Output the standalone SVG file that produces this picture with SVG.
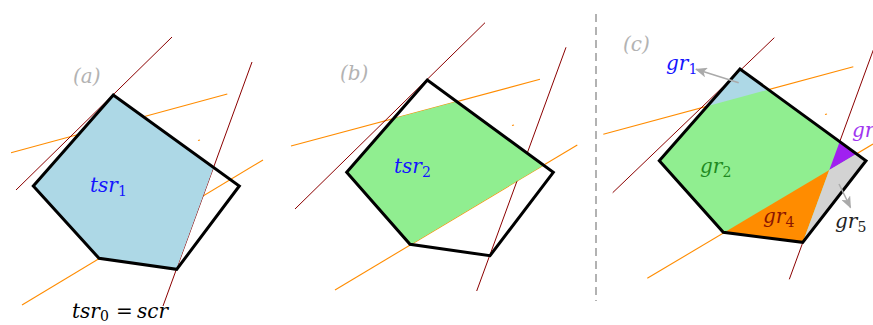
<svg xmlns="http://www.w3.org/2000/svg" width="873" height="325" viewBox="0 0 873 325">
<style>
.pent{fill:none;stroke:#000;stroke-width:3;stroke-linejoin:miter}
.dr{stroke:#8b0000;stroke-width:1;fill:none}
.or{stroke:#ff8c00;stroke-width:1.1;fill:none}
.m{font-family:"DejaVu Serif",serif;font-style:italic;font-size:20px}
.sub{font-size:14px;font-style:normal}
.lbl{fill:#b3b3b3}
.arr{stroke:#aaaaaa;stroke-width:1.5;fill:none}
</style>
<defs>
<clipPath id="clipA"><path d="M113.3,95 L33.3,186 L99,258.3 L176.7,269.3 L239.3,186 Z"/></clipPath>
<clipPath id="clipB"><path d="M427.3,80 L346.7,172.3 L410,244.3 L490,255.7 L553.3,172.3 Z"/></clipPath>
<clipPath id="clipC"><path d="M740,69 L659.3,160.7 L723.3,232.3 L802.7,242.3 L866,160.7 Z"/></clipPath>
<marker id="ah" viewBox="0 0 12 10" refX="11" refY="5" markerWidth="12" markerHeight="10" markerUnits="userSpaceOnUse" orient="auto">
<path d="M0,0 L12,5 L0,10 L3,5 Z" fill="#aaaaaa"/>
</marker>
</defs>

<g id="panel-a">
<g id="lines-a">
<line class="or" x1="11" y1="152.7" x2="227.3" y2="94"/>
<line class="or" x1="22" y1="305" x2="263" y2="160"/>
<line class="or" x1="198" y1="140.5" x2="200" y2="140"/>
<line class="dr" x1="16" y1="190" x2="172" y2="37"/>
<line class="dr" x1="252" y1="62" x2="163" y2="306"/>
</g>
<g id="tsr1-region" clip-path="url(#clipA)">
<polygon points="0,0 274.6,0 156,325 0,325" fill="#add8e6"/>
</g>
<path id="pentagon-a" class="pent" d="M113.3,95 L33.3,186 L99,258.3 L176.7,269.3 L239.3,186 Z"/>
<text class="m lbl" x="73" y="83">(a)</text>
<text class="m" x="90" y="192" fill="#1414ff">tsr<tspan class="sub" dy="4">1</tspan></text>
<text class="m" y="318" fill="#000"><tspan x="72">tsr</tspan><tspan class="sub" dy="3">0</tspan><tspan x="116" dy="-3" style="font-style:normal">=</tspan><tspan x="137">scr</tspan></text>
</g>

<g id="panel-b">
<g id="lines-b">
<line class="or" x1="291" y1="146" x2="540" y2="79.3"/>
<line class="or" x1="335" y1="290" x2="577.3" y2="145"/>
<line class="or" x1="512" y1="125.5" x2="514" y2="125"/>
<line class="dr" x1="295" y1="209" x2="485" y2="22.7"/>
<line class="dr" x1="566" y1="47.3" x2="476.7" y2="291"/>
</g>
<g id="tsr2-region" clip-path="url(#clipB)">
<polygon points="280,148.9 600,63.2 600,131.4 280,322.9" fill="#90ee90"/>
</g>
<path id="pentagon-b" class="pent" d="M427.3,80 L346.7,172.3 L410,244.3 L490,255.7 L553.3,172.3 Z"/>
<text class="m lbl" x="340" y="80">(b)</text>
<text class="m" x="394" y="173" fill="#1414ff">tsr<tspan class="sub" dy="4">2</tspan></text>
</g>

<line id="separator" x1="596" y1="14" x2="596" y2="301" stroke="#aaaaaa" stroke-width="1.8" stroke-dasharray="8,5"/>

<g id="panel-c">
<g id="lines-c">
<line class="or" x1="603.3" y1="134.3" x2="853.3" y2="66.7"/>
<line class="or" x1="647.3" y1="278.3" x2="873" y2="144"/>
<line class="or" x1="825" y1="114.5" x2="827" y2="114"/>
<line class="dr" x1="612.7" y1="192.7" x2="774.3" y2="37.7"/>
<line class="dr" x1="873.3" y1="50" x2="789.3" y2="279.3"/>
</g>
<g id="regions-c" clip-path="url(#clipC)">
<rect id="gr2" x="650" y="60" width="230" height="200" fill="#90ee90"/>
<polygon id="gr1" points="600,135.2 860,64.9 860,0 600,0" fill="#add8e6"/>
<polygon id="gr4" points="620,294.5 829.3,170 779.5,306 620,306" fill="#ff8c00"/>
<polygon id="gr3" points="829.3,170 873.3,50 900,50 900,127.9" fill="#a020f0"/>
<polygon id="gr5" points="829.3,170 900,127.9 900,306 779.5,306" fill="#d3d3d3"/>
</g>
<path id="pentagon-c" class="pent" d="M740,69 L659.3,160.7 L723.3,232.3 L802.7,242.3 L866,160.7 Z"/>
<g id="connectors">
<line class="arr" x1="738.7" y1="82.7" x2="696" y2="69.3" marker-end="url(#ah)"/>
<line class="arr" x1="839" y1="184" x2="850.5" y2="207.5" marker-end="url(#ah)"/>
</g>
<text class="m lbl" x="623" y="51">(c)</text>
<text class="m" x="666" y="70" fill="#1414ff">gr<tspan class="sub" dy="4">1</tspan></text>
<text class="m" x="700" y="173" fill="#1f8a1f">gr<tspan class="sub" dy="4">2</tspan></text>
<text class="m" x="852" y="137" fill="#a035f0">gr</text>
<text class="m" x="763" y="223" fill="#8b1500">gr<tspan class="sub" dy="4">4</tspan></text>
<text class="m" x="835" y="228" fill="#222">gr<tspan class="sub" dy="4">5</tspan></text>
</g>
</svg>
